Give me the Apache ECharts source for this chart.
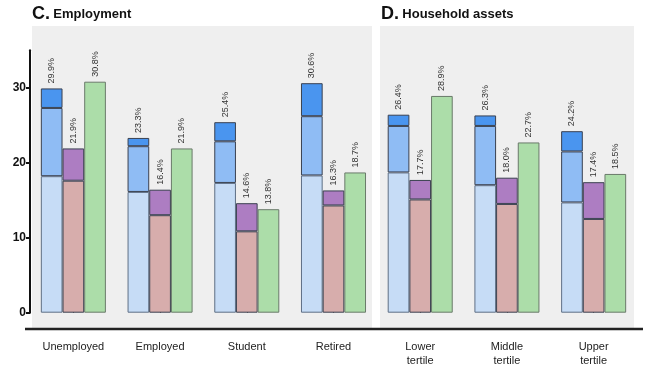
<!DOCTYPE html>
<html><head><meta charset="utf-8">
<script src="https://cdn.jsdelivr.net/npm/echarts@6/dist/echarts.min.js"></script>
<style>html,body{margin:0;padding:0;background:#fff}#c{width:647px;height:388px}</style>
</head><body><div id="c"></div>
<script>
const categories = ['Unemployed','Employed','Student','Retired','Lower\ntertile','Middle\ntertile','Upper\ntertile'];
// blue stacked bar: cumulative tops of segments
const blueLow = [18.2, 16.1, 17.3, 18.3, 18.7, 17.0, 14.7];
const blueMid = [27.3, 22.2, 22.85, 26.2, 24.9, 24.9, 21.5];
const blueTotal = [29.9, 23.3, 25.4, 30.6, 26.4, 26.3, 24.2];
// purple stacked bar
const pinkLow = [17.6, 13.0, 10.85, 14.3, 15.1, 14.5, 12.5];
const purpleTotal = [21.9, 16.4, 14.6, 16.3, 17.7, 18.0, 17.4];
// green bar
const greenTotal = [30.8, 21.9, 13.8, 18.7, 28.9, 22.7, 18.5];
const yTicks = [0, 10, 20, 30];

const diff = (a, b) => a.map((v, i) => +(v - b[i]).toFixed(2));
const FONT = 'Liberation Sans';
const border = '#3a4150';
function lbl(arr) {
  return {
    show: true, position: 'top', rotate: 90, align: 'left', verticalAlign: 'middle',
    distance: 5, fontSize: 9, color: '#333', fontFamily: FONT,
    formatter: p => arr[p.dataIndex].toFixed(1) + '%'
  };
}
const chart = echarts.init(document.getElementById('c'));
chart.setOption({
  animation: false,
  textStyle: { fontFamily: FONT },
  graphic: [
    { type: 'rect', z: -10, shape: { x: 32, y: 26, width: 340, height: 302 }, style: { fill: '#efefef' } },
    { type: 'rect', z: -10, shape: { x: 380, y: 26, width: 254, height: 302 }, style: { fill: '#efefef' } },
    { type: 'line', z: 10, shape: { x1: 25, y1: 329, x2: 643, y2: 329 }, style: { stroke: '#222', lineWidth: 2.5 } },
    { type: 'text', left: 32, top: 5, style: { text: '{a|C.} {b|Employment}', rich: {
      a: { fontSize: 18, fontWeight: 'bold', fontFamily: FONT, fill: '#111' },
      b: { fontSize: 13, fontWeight: 'bold', fontFamily: FONT, fill: '#111' } } } },
    { type: 'text', left: 381, top: 5, style: { text: '{a|D.} {b|Household assets}', rich: {
      a: { fontSize: 18, fontWeight: 'bold', fontFamily: FONT, fill: '#111' },
      b: { fontSize: 13, fontWeight: 'bold', fontFamily: FONT, fill: '#111' } } } }
  ],
  grid: { left: 30, right: 10, top: 50.2, bottom: 75.3, containLabel: false },
  xAxis: {
    type: 'category', data: categories, offset: 16,
    axisLine: { show: false },
    axisTick: { show: true, alignWithLabel: true, inside: true, length: 4, lineStyle: { color: '#222' } },
    axisLabel: { fontSize: 11, color: '#222', margin: 11, lineHeight: 14, fontFamily: FONT, interval: 0 }
  },
  yAxis: {
    type: 'value', min: 0, max: 35, interval: 10,
    splitLine: { show: false },
    axisLine: { show: true, lineStyle: { color: '#111', width: 2 } },
    axisTick: { show: true, length: 4, customValues: yTicks, lineStyle: { color: '#111', width: 2 } },
    axisLabel: { customValues: yTicks, fontSize: 12, fontWeight: 'bold', color: '#111', margin: 4, fontFamily: FONT }
  },
  series: [
    { type: 'bar', stack: 'b', data: blueLow, barGap: '0%', barCategoryGap: '25%',
      itemStyle: { color: '#c6dcf6', borderColor: '#5f6f85', borderWidth: 1 } },
    { type: 'bar', stack: 'b', data: diff(blueMid, blueLow),
      itemStyle: { color: '#8fbcf4', borderColor: border, borderWidth: 1 } },
    { type: 'bar', stack: 'b', data: diff(blueTotal, blueMid),
      itemStyle: { color: '#4a95ef', borderColor: border, borderWidth: 1 }, label: lbl(blueTotal) },
    { type: 'bar', stack: 'p', data: pinkLow,
      itemStyle: { color: '#d7adac', borderColor: border, borderWidth: 1 } },
    { type: 'bar', stack: 'p', data: diff(purpleTotal, pinkLow),
      itemStyle: { color: '#ad7dc2', borderColor: border, borderWidth: 1 }, label: lbl(purpleTotal) },
    { type: 'bar', data: greenTotal,
      itemStyle: { color: '#acdda9', borderColor: '#6a7a6a', borderWidth: 1 }, label: lbl(greenTotal) }
  ]
});
</script></body></html>
